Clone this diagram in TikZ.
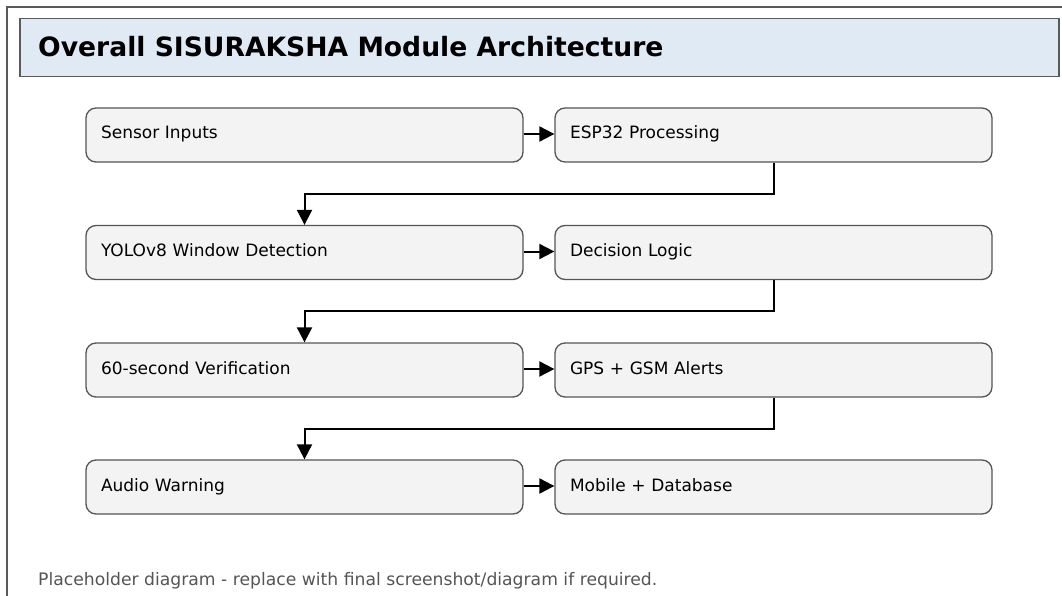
\documentclass[tikz,border=0pt]{standalone}
\usepackage{fontspec}
\setmainfont{DejaVu Sans}
\usetikzlibrary{calc,arrows.meta}
\definecolor{framegray}{HTML}{5A5A5A}
\definecolor{titlefill}{HTML}{E0EAF5}
\definecolor{boxfill}{HTML}{F3F3F3}
\definecolor{boxline}{HTML}{555555}
\definecolor{notegray}{HTML}{555555}
\tikzset{
  stagebox/.style={draw=boxline, fill=boxfill, line width=1.3pt, rounded corners=10pt,
    minimum width=437pt, minimum height=54pt, text width=407pt, align=left,
    inner xsep=15pt, text height=13pt, text depth=5pt,
    font=\fontsize{17}{20}\selectfont},
  flow/.style={draw=black, line width=2pt, -{Triangle[length=15pt,width=15pt]}}
}
\begin{document}
\begin{tikzpicture}[x=1pt,y=-1pt]
  \useasboundingbox (0,0) rectangle (1062,596);
  \fill[white] (0,0) rectangle (1062,596);
  % outer frame, running off the page on the right and bottom
  \begin{scope}
    \clip (0,0) rectangle (1062,596);
    \draw[framegray, line width=2pt] (7,7) rectangle (1075,610);
  \end{scope}
  % title bar
  \node[draw=framegray, fill=titlefill, line width=1.5pt, minimum width=1039pt,
        minimum height=58pt, anchor=north west, inner sep=0pt] (titlebar) at (19,18) {};
  \node[anchor=base west, font=\bfseries\fontsize{26.6}{31}\selectfont, inner sep=0pt]
        (title) at (38,57) {Overall SISURAKSHA Module Architecture};
  % stages
  \node[stagebox] (s1) at (304.5,135)   {Sensor Inputs};
  \node[stagebox] (s2) at (773.5,135)   {ESP32 Processing};
  \node[stagebox] (s3) at (304.5,252.5) {YOLOv8 Window Detection};
  \node[stagebox] (s4) at (773.5,252.5) {Decision Logic};
  \node[stagebox] (s5) at (304.5,370)   {60-second Verification};
  \node[stagebox] (s6) at (773.5,370)   {GPS + GSM Alerts};
  \node[stagebox] (s7) at (304.5,487)   {Audio Warning};
  \node[stagebox] (s8) at (773.5,487)   {Mobile + Database};
  % connectors within a row
  \foreach \a/\b in {s1/s2,s3/s4,s5/s6,s7/s8}
    \draw[flow] ([yshift=1pt]\a.east) -- ([yshift=1pt]\b.west);
  % connectors between rows
  \foreach \a/\b in {s2/s3,s4/s5,s6/s7}
    \draw[flow] (\a.south) -- ($(\a.south)!0.5!(\a.south|-\b.north)$) -| (\b.north);
  % footnote
  \node[anchor=base west, text=notegray, font=\fontsize{17.2}{20}\selectfont, inner sep=0pt]
        (note) at (38,585) {Placeholder diagram - replace with final screenshot/diagram if required.};
\end{tikzpicture}
\end{document}
